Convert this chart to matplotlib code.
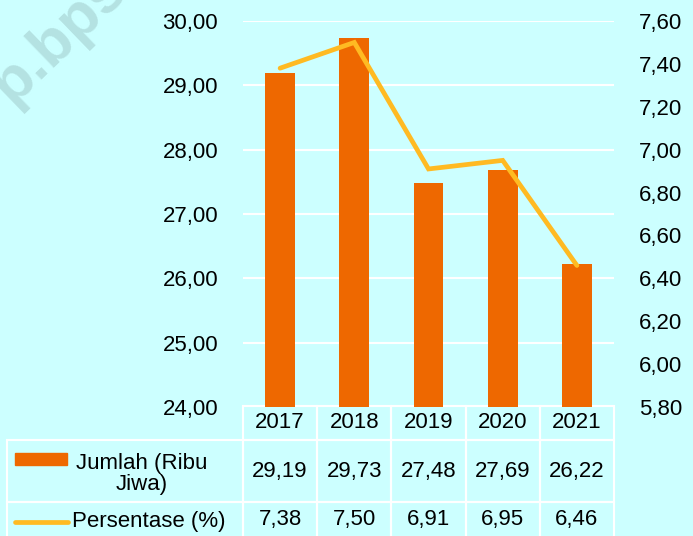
import matplotlib.pyplot as plt
import numpy as np
from matplotlib.patches import Rectangle
from matplotlib.lines import Line2D

plt.rcParams['font.family'] = ['Liberation Sans', 'DejaVu Sans']

tahun = ['2017', '2018', '2019', '2020', '2021']
jumlah = [29.19, 29.73, 27.48, 27.69, 26.22]
persen = [7.38, 7.50, 6.91, 6.95, 6.46]
kiri_ticks = [24, 25, 26, 27, 28, 29, 30]
kanan_ticks = [5.8, 6.0, 6.2, 6.4, 6.6, 6.8, 7.0, 7.2, 7.4, 7.6]

bg = '#CCFFFF'
c_bar = '#EE6800'
c_line = '#FFBA22'


def koma(v):
    return ('%.2f' % v).replace('.', ',')


W, H = 693, 536
fig = plt.figure(figsize=(W / 100, H / 100), dpi=100, facecolor=bg)

# plot area in pixels
L, R, T, B = 243, 614, 21, 407
ax = fig.add_axes([L / W, 1 - B / H, (R - L) / W, (B - T) / H])
ax.set_facecolor(bg)


def fx(px):
    return px / W


def fy(py):
    return 1 - py / H


pos = np.arange(len(tahun))
ax.bar(pos, jumlah, width=0.40, color=c_bar, zorder=3)
ax.set_xlim(-0.5, len(tahun) - 0.5)
ax.set_ylim(24, 30)
ax.set_yticks(kiri_ticks)
ax.set_yticklabels([koma(v) for v in kiri_ticks])
ax.yaxis.grid(True, color='white', lw=1.5, zorder=0)
ax.set_xticks([])
ax.tick_params(axis='y', length=0, pad=18, labelsize=16)
for s in ax.spines.values():
    s.set_visible(False)

ax2 = ax.twinx()
ax2.plot(pos, persen, color=c_line, lw=3.4, zorder=4, solid_capstyle='round',
         solid_joinstyle='miter')
ax2.set_ylim(5.8, 7.6)
ax2.set_yticks(kanan_ticks)
ax2.set_yticklabels([koma(v) for v in kanan_ticks])
ax2.tick_params(axis='y', length=0, pad=18, labelsize=16)
for s in ax2.spines.values():
    s.set_visible(False)

# data table: first column holds the series names
lab_x0 = 7
cell_text = [[''] + [koma(v) for v in jumlah], [''] + [koma(v) for v in persen]]
tbl = ax.table(cellText=cell_text, colLabels=[''] + tahun, cellLoc='center',
               bbox=[(lab_x0 - L) / (R - L), -(H - B + 1) / (B - T),
                     (R - lab_x0) / (R - L), (H - B + 2) / (B - T)])
tbl.auto_set_font_size(False)
tbl.set_fontsize(16)
row_h = {0: 34, 1: 63, 2: 35}
for (r, c), cell in tbl.get_celld().items():
    cell.set_edgecolor('white')
    cell.set_linewidth(1.5)
    cell.set_facecolor('none')
    cell.set_height(row_h[r])
    cell.set_width(L - lab_x0 if c == 0 else (R - L) / len(tahun))
    if r == 0 and c == 0:
        cell.visible_edges = ''

# series names with legend keys
fig.patches.append(Rectangle((fx(15), fy(465)), fx(67) - fx(15), fy(453) - fy(465),
                             transform=fig.transFigure, color=c_bar))
fig.text(fx(142), fy(474), 'Jumlah (Ribu\nJiwa)', ha='center', va='center',
         fontsize=16, linespacing=1.05)
fig.lines.append(Line2D([fx(15), fx(68)], [fy(522), fy(522)], transform=fig.transFigure,
                        color=c_line, lw=3.4, solid_capstyle='round'))
fig.text(fx(72), fy(522), 'Persentase (%)', ha='left', va='center', fontsize=16)

# watermark
fig.text(fx(12), fy(105), 'p.bps.go.id', rotation=44, rotation_mode='anchor',
         fontsize=44, fontweight='bold', color='#B4E2E2',
         ha='left', va='baseline', zorder=0)

fig.savefig('out.png', dpi=100, facecolor=bg)
